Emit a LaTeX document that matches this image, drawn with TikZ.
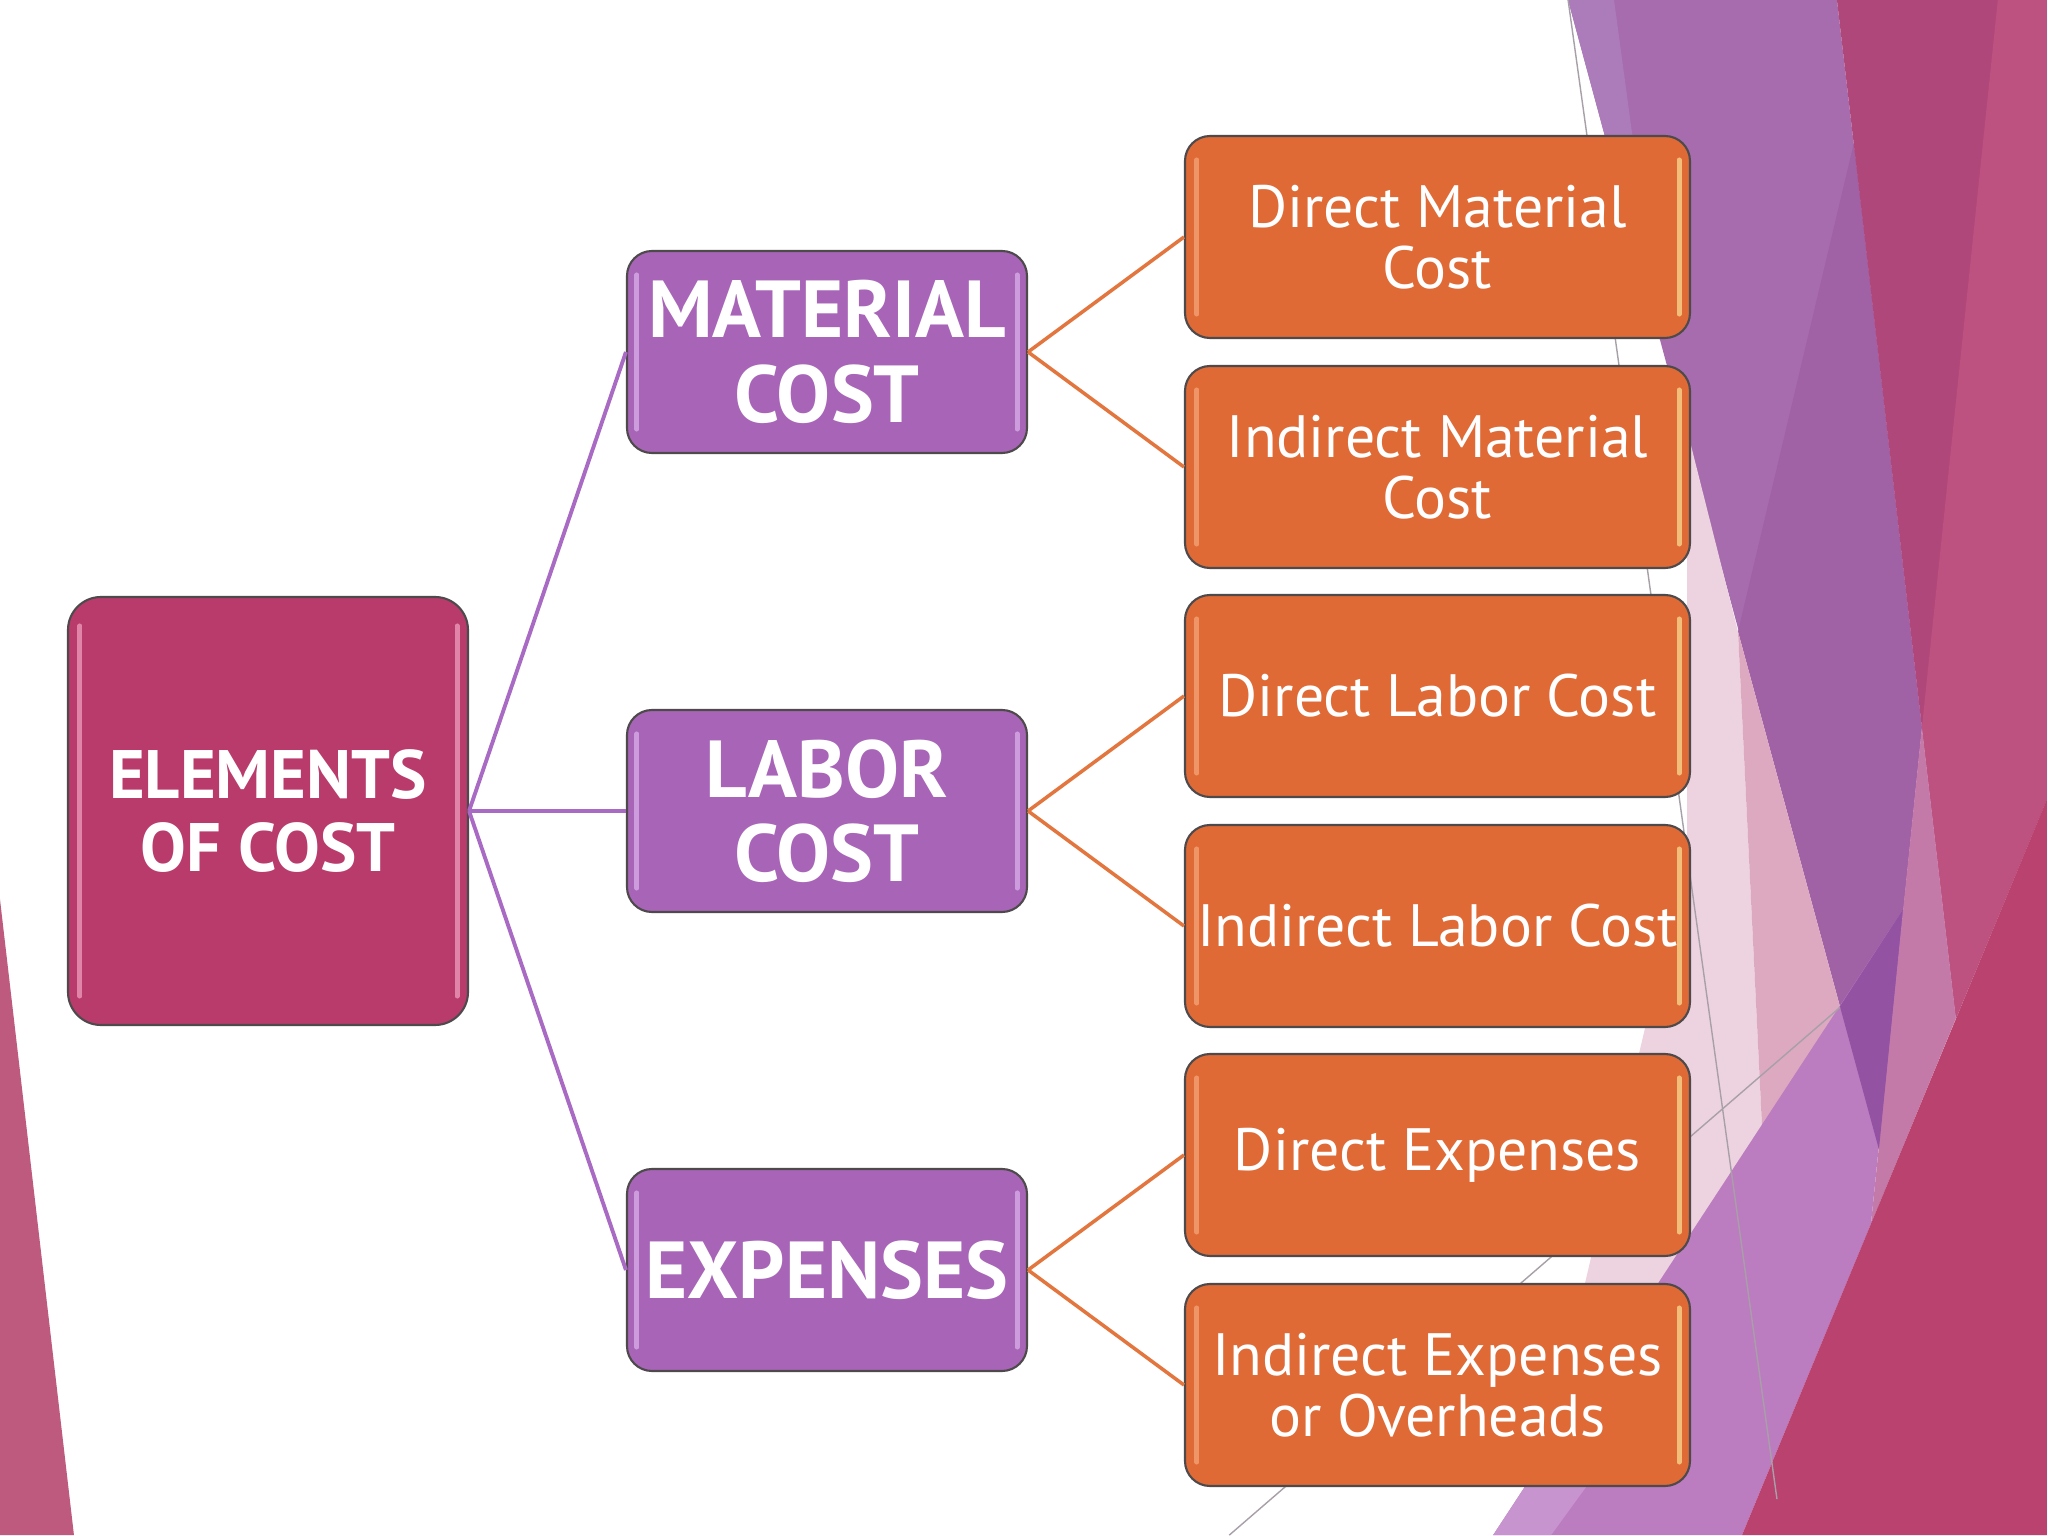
\documentclass[tikz,border=0pt]{standalone}
\usepackage{fontspec}
\setmainfont{PT Sans}
\usetikzlibrary{positioning}

% box colours
\definecolor{rootpink}{HTML}{B93B6C}
\definecolor{midpurple}{HTML}{A865B8}
\definecolor{leaforange}{HTML}{DF6A36}
\definecolor{edgegray}{HTML}{4E4A4C}
\definecolor{linkpurple}{HTML}{A96AC4}
\definecolor{linkorange}{HTML}{E2763E}
\definecolor{shinepink}{HTML}{EC98B8}
\definecolor{shinepurple}{HTML}{D6AAE6}
\definecolor{shinepeach}{HTML}{F4A276}
\definecolor{shineyellow}{HTML}{F8D48A}

% background facets
\definecolor{bgpurple}{HTML}{A66CAE}
\definecolor{bglilac}{HTML}{AB7BBA}
\definecolor{bgdeeppurple}{HTML}{A061A5}
\definecolor{bgmagenta}{HTML}{B0477A}
\definecolor{bgrose}{HTML}{BD5180}
\definecolor{bgpinkcol}{HTML}{C47AA8}
\definecolor{bglightpink}{HTML}{EDD3DF}
\definecolor{bgmidpink}{HTML}{DDA9C0}
\definecolor{bgviolet}{HTML}{BC7CC0}
\definecolor{bgwedge}{HTML}{9452A2}
\definecolor{bgcrimson}{HTML}{B9426F}
\definecolor{bglavender}{HTML}{C794D0}
\definecolor{bgleft}{HTML}{BE5A7E}
\definecolor{bgline}{HTML}{A8A0A8}

\begin{document}
\begin{tikzpicture}[node distance=1cm,
    root/.style={rectangle, rounded corners=0.33cm, draw=edgegray, line width=0.6pt, fill=rootpink, minimum width=4cm, minimum height=4.28cm, text=white, align=center, font=\bfseries\fontsize{19.5}{21}\selectfont},
    branch/.style={rectangle, rounded corners=0.25cm, draw=edgegray, line width=0.6pt, fill=midpurple, minimum width=4cm, minimum height=2.02cm, text=white, align=center, font=\bfseries\fontsize{23}{24}\selectfont},
    leaf/.style={rectangle, rounded corners=0.25cm, draw=edgegray, line width=0.6pt, fill=leaforange, minimum width=5.05cm, minimum height=2.02cm, inner sep=1pt, text=white, align=center, font=\fontsize{17}{17.5}\selectfont},
    shine/.style={line width=1.4pt, line cap=round, opacity=0.8}]

\useasboundingbox (0,0) rectangle (20.48,-15.36);

% Background facets (pixel units)
\begin{scope}[x=0.01cm, y=-0.01cm]
\fill[white] (0,0) rectangle (2048,1536);
\fill[bgleft] (0,900) -- (74,1536) -- (0,1536) -- cycle;
\fill[bgpurple] (1569,0) -- (1838,0) -- (1923,728) -- (1880,1150) -- cycle;
\fill[bglilac] (1569,0) -- (1615,0) -- (1661,340) -- cycle;
\fill[bgdeeppurple] (1855,143) -- (1923,728) -- (1880,1150) -- (1739,632) -- cycle;
\fill[bgmagenta] (1838,0) -- (2048,0) -- (2048,800) -- (1957,1019) -- cycle;
\fill[bgrose] (1999,0) -- (2048,0) -- (2048,800) -- (1957,1019) -- (1923,728) -- cycle;
\fill[bgpinkcol] (1923,728) -- (1957,1019) -- (1872,1225) -- cycle;
\fill[bglightpink] (1688,430) -- (1739,632) -- (1763,1127) -- (1545,1458) -- (1688,850) -- cycle;
\fill[bgmidpink] (1739,632) -- (1841,1007) -- (1763,1127) -- cycle;
\fill[bgviolet] (1904,910) -- (1872,1225) -- (1743,1536) -- (1494,1536) -- cycle;
\fill[bgwedge] (1904,910) -- (1841,1007) -- (1880,1150) -- cycle;
\fill[bgcrimson] (2048,800) -- (2048,1536) -- (1743,1536) -- cycle;
\fill[bglavender] (1494,1536) -- (1552,1536) -- (1600,1470) -- (1540,1466) -- cycle;
\draw[bgline, line width=0.4pt] (1569,0) -- (1778,1500);
\draw[bgline, line width=0.4pt] (1841,1008) -- (1230,1536);
\end{scope}

% Central node
\node[root] (root) at (2.68,-8.11) {ELEMENTS\\OF COST};

% Cost groups
\node[branch, right of=root, node distance=5.59cm] (labor) {LABOR\\COST};
\node[branch, above of=labor, node distance=4.59cm] (material) {MATERIAL\\COST};
\node[branch, below of=labor, node distance=4.59cm] (expenses) {EXPENSES};

% Material items
\node[leaf, right of=material, node distance=6.105cm, yshift=1.15cm] (dirmat) {Direct Material\\Cost};
\node[leaf, right of=material, node distance=6.105cm, yshift=-1.15cm] (indmat) {Indirect Material\\Cost};

% Labor items
\node[leaf, right of=labor, node distance=6.105cm, yshift=1.15cm] (dirlab) {Direct Labor Cost};
\node[leaf, right of=labor, node distance=6.105cm, yshift=-1.15cm] (indlab) {Indirect Labor Cost};

% Expense items
\node[leaf, right of=expenses, node distance=6.105cm, yshift=1.15cm] (direxp) {Direct Expenses};
\node[leaf, right of=expenses, node distance=6.105cm, yshift=-1.15cm] (indexp) {Indirect Expenses\\or Overheads};

% Glossy edges
\draw[shine, shinepink] ([xshift=0.13cm, yshift=-0.3cm]root.north west) -- ([xshift=0.13cm, yshift=0.3cm]root.south west);
\draw[shine, shinepink] ([xshift=-0.12cm, yshift=-0.3cm]root.north east) -- ([xshift=-0.12cm, yshift=0.3cm]root.south east);
\foreach \n in {material, labor, expenses} {
  \draw[shine, shinepurple] ([xshift=0.11cm, yshift=-0.25cm]\n.north west) -- ([xshift=0.11cm, yshift=0.25cm]\n.south west);
  \draw[shine, shinepurple] ([xshift=-0.11cm, yshift=-0.25cm]\n.north east) -- ([xshift=-0.11cm, yshift=0.25cm]\n.south east);
}
\foreach \n in {dirmat, indmat, dirlab, indlab, direxp, indexp} {
  \draw[shine, shinepeach] ([xshift=0.13cm, yshift=-0.25cm]\n.north west) -- ([xshift=0.13cm, yshift=0.25cm]\n.south west);
  \draw[shine, shineyellow] ([xshift=-0.12cm, yshift=-0.25cm]\n.north east) -- ([xshift=-0.12cm, yshift=0.25cm]\n.south east);
}

% Connections
\draw[linkpurple, line width=1.1pt] (root.east) -- (material.west);
\draw[linkpurple, line width=1.1pt] (root.east) -- (labor.west);
\draw[linkpurple, line width=1.1pt] (root.east) -- (expenses.west);

\draw[linkorange, line width=1pt] (material.east) -- (dirmat.west);
\draw[linkorange, line width=1pt] (material.east) -- (indmat.west);
\draw[linkorange, line width=1pt] (labor.east) -- (dirlab.west);
\draw[linkorange, line width=1pt] (labor.east) -- (indlab.west);
\draw[linkorange, line width=1pt] (expenses.east) -- (direxp.west);
\draw[linkorange, line width=1pt] (expenses.east) -- (indexp.west);

\end{tikzpicture}
\end{document}
